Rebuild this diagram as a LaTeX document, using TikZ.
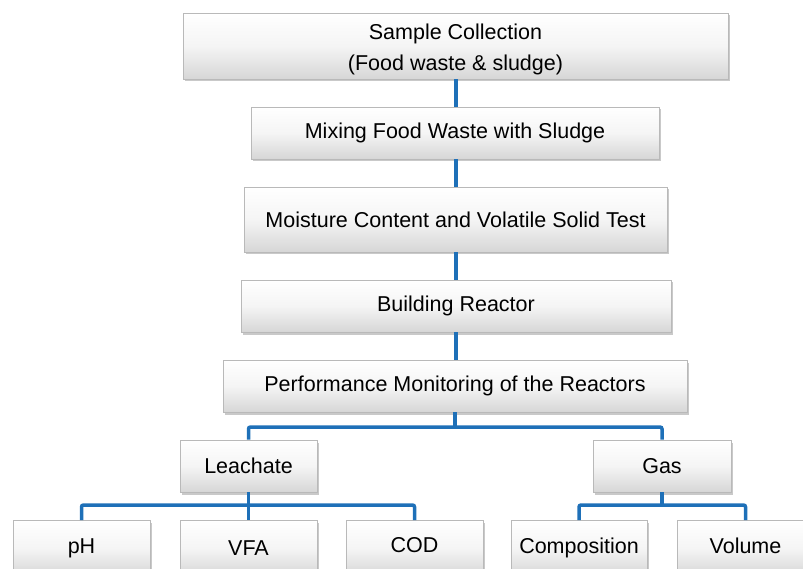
\documentclass[tikz,border=0pt]{standalone}
\usepackage{fontspec}
\setmainfont{Liberation Sans}
\usetikzlibrary{shadows}
\definecolor{conn}{RGB}{30,112,184}
\tikzset{
  box/.style={draw=gray!55, line width=0.6pt, top color=white, bottom color=gray!32,
    middle color=gray!8, inner sep=0pt, align=center,
    font=\fontsize{21.5}{31}\selectfont,
    drop shadow={shadow xshift=1.5pt, shadow yshift=-2.5pt, opacity=0.5, fill=gray!85}},
  lbl/.style={font=\fontsize{21.5}{26}\selectfont, anchor=base, inner sep=0pt},
  link/.style={draw=conn, line width=3.5pt, rounded corners=2pt}
}
\begin{document}
\begin{tikzpicture}[x=1pt,y=-1pt]
\useasboundingbox (0,0) rectangle (803,569);
\clip (0,0) rectangle (803,569);
\node[box, minimum width=545, minimum height=66] (s) at (455.5,46) {};
\node[lbl] (s1) at (455.5,40) {Sample Collection};
\node[lbl] (s2) at (455.5,71) {(Food waste \& sludge)};
\node[box, minimum width=408, minimum height=52] (m) at (455,133) {Mixing Food Waste with Sludge};
\node[box, minimum width=423, minimum height=65] (mc) at (455.5,219.5) {Moisture Content and Volatile Solid Test};
\node[box, minimum width=430, minimum height=52] (b) at (456,306) {Building Reactor};
\node[box, minimum width=464, minimum height=52] (p) at (455,386) {Performance Monitoring of the Reactors};
\node[box, minimum width=137, minimum height=52] (l) at (248.5,466) {Leachate};
\node[box, minimum width=138, minimum height=52] (g) at (662,466) {Gas};
\node[box, minimum width=137, minimum height=56, anchor=north] (ph) at (81.5,520) {};
\node[box, minimum width=137, minimum height=56, anchor=north] (vfa) at (248.5,520) {};
\node[box, minimum width=137, minimum height=56, anchor=north] (cod) at (414.5,520) {};
\node[box, minimum width=136, minimum height=56, anchor=north] (comp) at (579,520) {};
\node[box, minimum width=137, minimum height=56, anchor=north] (vol) at (745.5,520) {};
\node[lbl] (tph) at (81.5,553) {pH};
\node[lbl] (tvfa) at (248.5,555) {VFA};
\node[lbl] (tcod) at (414.5,552) {COD};
\node[lbl] (tcomp) at (579,553) {Composition};
\node[lbl] (tvol) at (745.5,553) {Volume};
% connectors
\draw[link] (s.south -| 456,0) -- (m.north -| 456,0);
\draw[link] (m.south -| 456,0) -- (mc.north -| 456,0);
\draw[link] (mc.south -| 456,0) -- (b.north -| 456,0);
\draw[link] (b.south -| 456,0) -- (p.north -| 456,0);
\coordinate (pj) at (455,427);
\draw[link] (p.south) -- (pj);
\draw[link] (l.north) |- (pj) -| (g.north);
\coordinate (lj) at (248.5,505);
\draw[link] (l.south) -- (lj);
\draw[link] (ph.north) |- (lj) -| (cod.north);
\draw[link] (lj) -- (vfa.north);
\coordinate (gj) at (662,505);
\draw[link] (g.south) -- (gj);
\draw[link] (comp.north) |- (gj) -| (vol.north);
\end{tikzpicture}
\end{document}
